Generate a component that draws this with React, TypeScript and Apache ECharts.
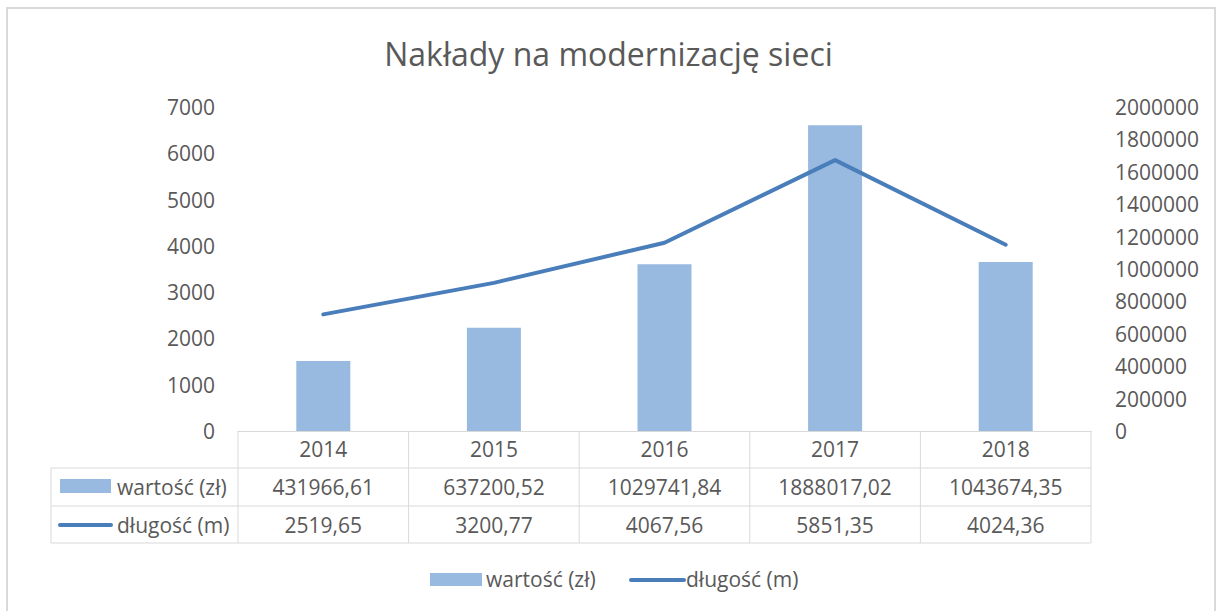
import React, { useEffect, useRef } from "react";
import * as echarts from "echarts";

const title = "Nakłady na modernizację sieci";
const years = ["2014", "2015", "2016", "2017", "2018"];
const wartosc = [431966.61, 637200.52, 1029741.84, 1888017.02, 1043674.35];
const dlugosc = [2519.65, 3200.77, 4067.56, 5851.35, 4024.36];
const wartoscName = "wartość (zł)";
const dlugoscName = "długość (m)";

const FONT = "'Open Sans', sans-serif";
const FS = 21;
const TXT = "#595959";
const GRIDC = "#D9D9D9";
const BAR = "#98B9E0";
const LINE = "#4A7EBB";

const fmt = (v: number) => v.toFixed(2).replace(".", ",");

export default function App() {
  const ref = useRef<HTMLDivElement>(null);
  useEffect(() => {
    if (!ref.current) return;
    const chart = echarts.init(ref.current, null, { renderer: "svg" });
    const gL = 238, gR = 1091, gT = 107, gB = 431;
    const colW = (gR - gL) / years.length;
    const rowY = [431, 468, 506, 543];
    const labL = 51;
    const g: any[] = [];
    const font = `${FS}px ${FONT}`;
    const ln = (x1: number, y1: number, x2: number, y2: number) =>
      g.push({ type: "line", shape: { x1, y1, x2, y2 }, style: { stroke: GRIDC, lineWidth: 1 }, silent: true });
    const txt = (x: number, y: number, text: string, align: string) =>
      g.push({ type: "text", x, y, style: { text, fill: TXT, font, align, verticalAlign: "middle" }, silent: true });
    // frame
    g.push({ type: "rect", shape: { x: 7, y: 8, width: 1208, height: 640 }, style: { fill: "none", stroke: "#D9D9D9", lineWidth: 2 }, silent: true });
    // table
    ln(gL, rowY[0], gL, rowY[3]);
    for (let i = 1; i <= years.length; i++) ln(gL + i * colW, rowY[0], gL + i * colW, rowY[3]);
    ln(labL, rowY[1], gR, rowY[1]);
    ln(labL, rowY[2], gR, rowY[2]);
    ln(labL, rowY[3], gR, rowY[3]);
    ln(labL, rowY[1], labL, rowY[3]);
    const rows = [wartosc, dlugosc];
    rows.forEach((arr, r) => {
      const cy = (rowY[r + 1] + rowY[r + 2]) / 2;
      arr.forEach((v, i) => txt(gL + (i + 0.5) * colW, cy, fmt(v), "center"));
    });
    // row keys
    g.push({ type: "rect", shape: { x: 60, y: 479, width: 51, height: 14 }, style: { fill: BAR }, silent: true });
    txt(117, 487, wartoscName, "left");
    g.push({ type: "line", shape: { x1: 60, y1: 525, x2: 111, y2: 525 }, style: { stroke: LINE, lineWidth: 4, lineCap: "round" }, silent: true });
    txt(117, 525, dlugoscName, "left");
    // legend
    g.push({ type: "rect", shape: { x: 430, y: 573, width: 52, height: 13 }, style: { fill: BAR }, silent: true });
    txt(486, 579, wartoscName, "left");
    g.push({ type: "line", shape: { x1: 631, y1: 580, x2: 684, y2: 580 }, style: { stroke: LINE, lineWidth: 4, lineCap: "round" }, silent: true });
    txt(686, 579, dlugoscName, "left");

    chart.setOption({
      animation: false,
      backgroundColor: "#fff",
      title: {
        text: title, left: "center", top: 32,
        textStyle: { fontFamily: FONT, fontSize: 32, fontWeight: "normal", color: TXT },
      },
      grid: { left: gL, right: 1217 - gR, top: gT, bottom: 611 - gB, containLabel: false },
      xAxis: {
        type: "category", data: years,
        axisLine: { show: true, lineStyle: { color: GRIDC, width: 1 } },
        axisTick: { show: false },
        axisLabel: { fontFamily: FONT, fontSize: FS, color: TXT, margin: 18, verticalAlign: "middle" },
      },
      yAxis: [
        {
          type: "value", min: 0, max: 7000, interval: 1000, position: "left",
          axisLine: { show: false }, axisTick: { show: false }, splitLine: { show: false },
          axisLabel: { fontFamily: FONT, fontSize: FS, color: TXT, margin: 23, formatter: (v: number) => String(v) },
        },
        {
          type: "value", min: 0, max: 2000000, interval: 200000, position: "right",
          axisLine: { show: false }, axisTick: { show: false }, splitLine: { show: false },
          axisLabel: { fontFamily: FONT, fontSize: FS, color: TXT, margin: 24, formatter: (v: number) => String(v) },
        },
      ],
      series: [
        {
          name: wartoscName, type: "bar", yAxisIndex: 1, data: wartosc, barWidth: 54,
          itemStyle: { color: BAR }, z: 2,
        },
        {
          name: dlugoscName, type: "line", yAxisIndex: 0, data: dlugosc,
          showSymbol: false, symbol: "none",
          lineStyle: { color: LINE, width: 4, cap: "round" }, itemStyle: { color: LINE }, z: 3,
        },
      ],
      graphic: g,
    });
    return () => chart.dispose();
  }, []);
  return <div ref={ref} style={{ position: "absolute", left: 0, top: 0, width: 1217, height: 611 }} />;
}
